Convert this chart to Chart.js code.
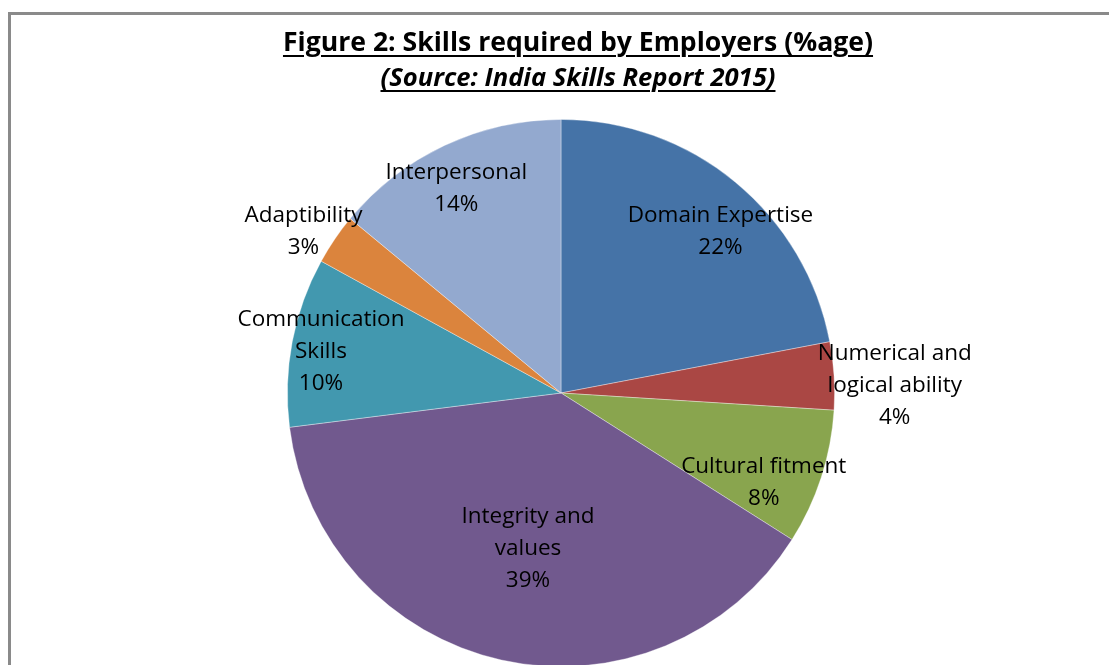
<!DOCTYPE html>
<html>
<head>
<meta charset="utf-8">
<script src="https://cdn.jsdelivr.net/npm/chart.js@4/dist/chart.umd.min.js"></script>
<style>
  html, body { margin: 0; padding: 0; background: #fff; overflow: hidden; width: 1109px; height: 665px; }
  #frame { position: absolute; left: 8px; top: 12px; width: 1200px; height: 800px; border: 3px solid #8a8a8a; }
  #wrap { position: absolute; left: 0; top: 0; width: 1109px; height: 700px; }
  .ttl { position: absolute; left: 0; width: 1156px; text-align: center; font-family: "Open Sans", Lato, sans-serif; color: #000; line-height: 1; }
  #t1 { top: 28px; font-size: 26.6px; font-weight: bold; }
  #t2 { top: 64px; font-size: 25.6px; font-weight: bold; font-style: italic; }
  .ttl span { text-decoration: underline; text-underline-offset: 4px; text-decoration-thickness: 2px; }
</style>
</head>
<body>
<div id="frame"></div>
<div id="wrap"><canvas id="pie"></canvas></div>
<div class="ttl" id="t1"><span>Figure 2: Skills required by Employers (%age)</span></div>
<div class="ttl" id="t2"><span>(Source: India Skills Report 2015)</span></div>
<script>
const skills = [
  ["Domain Expertise"],
  ["Numerical and", "logical ability"],
  ["Cultural fitment"],
  ["Integrity and", "values"],
  ["Communication", "Skills"],
  ["Adaptibility"],
  ["Interpersonal"]
];
const shares = [22, 4, 8, 39, 10, 3, 14];
const sliceColors = ["#4573A7", "#AA4744", "#89A54E", "#71598E", "#4298AF", "#DB843D", "#93A9CF"];

// label placement: [distance as fraction of radius, angle shift in degrees]
const labelPlace = [
  [0.83, 5], [1.22, 2.4], [0.81, 5.8], [0.58, -0.6], [0.89, -1.1], [1.11, -2.2], [0.84, -1.9]
];

const sliceLabels = {
  id: "sliceLabels",
  afterDatasetsDraw(chart) {
    const ctx = chart.ctx;
    const arcs = chart.getDatasetMeta(0).data;
    const total = shares.reduce((a, b) => a + b, 0);
    ctx.save();
    ctx.font = "22.5px 'Open Sans', Lato, sans-serif";
    ctx.fillStyle = "#000";
    ctx.textAlign = "center";
    ctx.textBaseline = "middle";
    arcs.forEach((arc, i) => {
      const p = arc.getProps(["x", "y", "startAngle", "endAngle", "outerRadius"], true);
      const ang = (p.startAngle + p.endAngle) / 2 + labelPlace[i][1] * Math.PI / 180;
      const r = p.outerRadius * labelPlace[i][0];
      const lines = skills[i].concat([Math.round(shares[i] / total * 100) + "%"]);
      const cx = p.x + Math.cos(ang) * r;
      const cy = p.y + Math.sin(ang) * r;
      const lh = 32;
      lines.forEach((t, k) => {
        ctx.fillText(t, cx, cy + (k - (lines.length - 1) / 2) * lh);
      });
    });
    ctx.restore();
  }
};

new Chart(document.getElementById("pie"), {
  type: "pie",
  data: {
    labels: skills,
    datasets: [{
      data: shares,
      backgroundColor: sliceColors,
      borderColor: "rgba(255,255,255,0.45)",
      borderWidth: 0.8
    }]
  },
  options: {
    responsive: true,
    maintainAspectRatio: false,
    animation: false,
    layout: { padding: { top: 119, bottom: 33, left: 287, right: 274 } },
    plugins: {
      legend: { display: false },
      tooltip: { enabled: false },
      title: { display: false }
    }
  },
  plugins: [sliceLabels]
});
</script>
</body>
</html>
